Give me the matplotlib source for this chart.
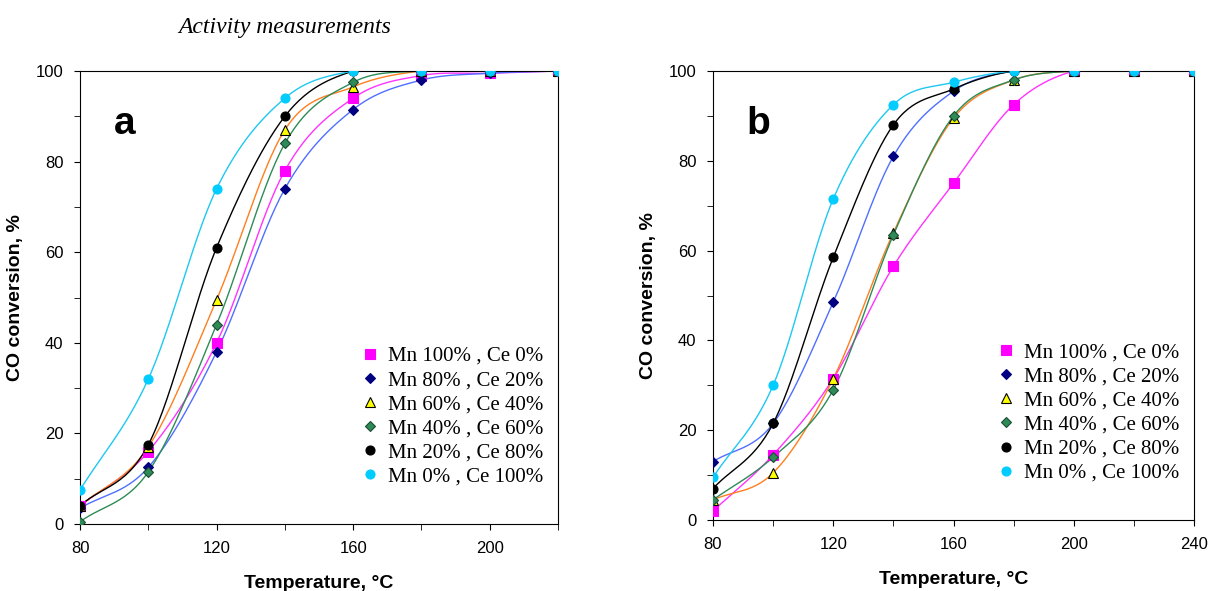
import numpy as np
import matplotlib
matplotlib.use('Agg')
import matplotlib.pyplot as plt

labels = ['Mn 100% , Ce 0%', 'Mn 80% , Ce 20%', 'Mn 60% , Ce 40%',
          'Mn 40% , Ce 60%', 'Mn 20% , Ce 80%', 'Mn 0% , Ce 100%']

temp_a = [80, 100, 120, 140, 160, 180, 200, 220]
conv_a = [
    [4, 16, 40, 78, 94, 99, 99.5, 100],
    [3.5, 12.5, 38, 74, 91.5, 98, 99.5, 100],
    [4, 17, 49.5, 87, 96.5, 100, 100, 100],
    [0.5, 11.5, 44, 84, 97.5, 100, 100, 100],
    [4, 17.5, 61, 90, 100, 100, 100, 100],
    [7.5, 32, 74, 94, 100, 100, 100, 100],
]

temp_b = [80, 100, 120, 140, 160, 180, 200, 220, 240]
conv_b = [
    [2, 14.5, 31.5, 56.5, 75, 92.5, 100, 100, 100],
    [13, 21.5, 48.5, 81, 95.5, 100, 100, 100, 100],
    [4.5, 10.5, 31.5, 64, 89.5, 98, 100, 100, 100],
    [4.5, 14, 29, 63.5, 90, 98, 100, 100, 100],
    [7, 21.5, 58.5, 88, 96, 100, 100, 100, 100],
    [9.5, 30, 71.5, 92.5, 97.5, 100, 100, 100, 100],
]

line_colors = ['#ff33ff', '#4f6fff', '#ff7f1f', '#2e8b57', '#000000', '#1ec8f0']
marker_face = ['#ff00ff', '#000080', '#ffff00', '#2e8b57', '#000000', '#00ccff']
marker_edge = ['#ff00ff', '#000080', '#000000', '#1a4d33', '#000000', '#00ccff']
markers = ['s', 'D', '^', 'D', 'o', 'o']
msizes = [6.5, 5.5, 7.5, 5.5, 6.5, 6.5]


def smooth(x, y, n=30):
    # Catmull-Rom style smoothing like Excel's smoothed lines
    x = np.asarray(x, float)
    y = np.asarray(y, float)
    px = np.concatenate([[2 * x[0] - x[1]], x, [2 * x[-1] - x[-2]]])
    py = np.concatenate([[2 * y[0] - y[1]], y, [2 * y[-1] - y[-2]]])
    xs, ys = [], []
    t = np.linspace(0, 1, n)
    for i in range(1, len(px) - 2):
        p0, p1, p2, p3 = [np.array([px[j], py[j]]) for j in range(i - 1, i + 3)]
        c1 = p1 + (p2 - p0) / 6
        c2 = p2 - (p3 - p1) / 6
        pts = ((1 - t) ** 3)[:, None] * p1 + (3 * (1 - t) ** 2 * t)[:, None] * c1 \
            + (3 * (1 - t) * t ** 2)[:, None] * c2 + (t ** 3)[:, None] * p2
        xs.append(pts[:, 0])
        ys.append(pts[:, 1])
    return np.concatenate(xs), np.concatenate(ys)


fig = plt.figure(figsize=(12.11, 5.91), dpi=100)
W, H = 1211, 591
ax_a = fig.add_axes([80 / W, 1 - 524 / H, 478 / W, 453 / H])
ax_b = fig.add_axes([713 / W, 1 - 520 / H, 481 / W, 449 / H])

serif = 'Liberation Serif'
sans = 'Liberation Sans'

for ax, temps, conv, letter, xmax, xt in [
        (ax_a, temp_a, conv_a, 'a', 220, [80, 120, 160, 200]),
        (ax_b, temp_b, conv_b, 'b', 240, [80, 120, 160, 200, 240])]:
    for i in range(6):
        sx, sy = smooth(temps, conv[i])
        ax.plot(sx, sy, color=line_colors[i], lw=1.0, zorder=2)
        ax.plot(temps, conv[i], linestyle='none', marker=markers[i], ms=msizes[i],
                mfc=marker_face[i], mec=marker_edge[i], mew=0.8, label=labels[i], zorder=3)
    ax.set_xlim(80, xmax)
    ax.set_ylim(0, 100)
    ax.set_xticks(xt)
    ax.set_xticks(np.arange(80, xmax + 1, 20), minor=True)
    ax.set_yticks(np.arange(0, 101, 20))
    ax.set_yticks(np.arange(0, 101, 10), minor=True)
    ax.tick_params(direction='out', length=4, labelsize=12, pad=8)
    ax.tick_params(which='minor', length=4)
    for t in ax.get_xticklabels() + ax.get_yticklabels():
        t.set_fontfamily(sans)
    ax.set_xlabel('Temperature, °C', fontsize=14, fontweight='bold', family=sans, labelpad=14)
    ax.set_ylabel('CO conversion, %', fontsize=14, fontweight='bold', family=sans, labelpad=8)
    ax.text(0.07, 0.86, letter, transform=ax.transAxes, fontsize=28, fontweight='bold', family=sans)
    ax.legend(loc='lower right', bbox_to_anchor=(1.0, 0.05), frameon=False,
              prop={'family': serif, 'size': 15}, handletextpad=0.1, labelspacing=0.22,
              borderaxespad=0.3, handlelength=1.5)

fig.text(285 / W, 1 - 27 / H, 'Activity measurements', fontsize=17, style='italic',
         family=serif, ha='center', va='center')

fig.savefig('out.png', dpi=100)
